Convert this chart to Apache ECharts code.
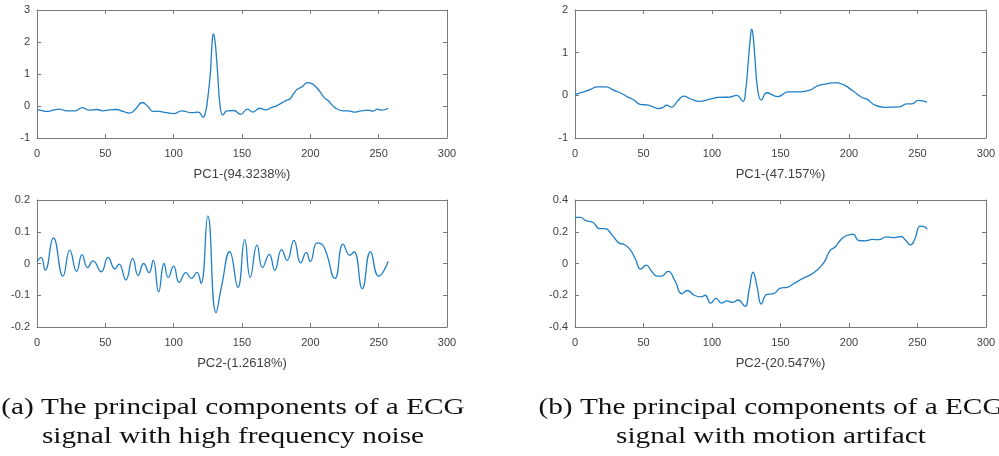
<!DOCTYPE html>
<html>
<head>
<meta charset="utf-8">
<script src="https://cdn.jsdelivr.net/npm/echarts@6/dist/echarts.min.js"></script>
<style>html,body{margin:0;padding:0;background:#fff}#c{width:999px;height:456px}</style>
</head>
<body>
<div id="c"></div>
<script>
// PC1 of ECG with high frequency noise
const pc1aX = [0,3,7,12,16,22,28,33,38,44,48,53,58,63,68,72,77,81,85,89,95,100,106,113,118,121.6,123.5,124.5,126.8,128,129,130,131,132.2,134,136,139,144,149,154,158,163,167,172,176,182,185,188,190.5,194,198,201,204,207,210,213,218,224,228,232,237,242,246,249,252,257];
const pc1aY = [-0.12,-0.14,-0.17,-0.13,-0.1,-0.15,-0.15,-0.05,-0.13,-0.11,-0.15,-0.12,-0.11,-0.17,-0.22,-0.1,0.11,-0.01,-0.17,-0.17,-0.21,-0.24,-0.15,-0.21,-0.19,-0.35,-0.15,0.1,1.0,1.9,2.25,2.1,1.7,1.0,0.0,-0.28,-0.15,-0.14,-0.26,-0.1,-0.19,-0.07,-0.12,-0.04,0.02,0.17,0.22,0.4,0.52,0.6,0.73,0.7,0.6,0.45,0.27,0.17,-0.05,-0.15,-0.15,-0.19,-0.15,-0.13,-0.16,-0.1,-0.13,-0.07];
// PC2 of ECG with high frequency noise
const pc2aX = [0,3,6,12,19,24,29,33,37,41,47,52,57,60,65,70,74,78,82,85,89,93,96,100,104,109,113,117,120,125,131,135,141,147,152,156,161,165,170,174,179,183,188,193,197,200,205,210,218,224,229,232,238,244,250,257];
const pc2aY = [0.005,0.019,-0.021,0.081,-0.04,0.042,-0.025,0.028,-0.013,0.008,-0.026,0.019,-0.017,-0.002,-0.052,0.016,-0.038,0,-0.029,0.01,-0.089,0,-0.044,-0.008,-0.059,-0.029,-0.047,-0.028,-0.063,0.15,-0.155,-0.073,0.037,-0.075,0.075,-0.044,0.058,-0.013,0.029,-0.021,0.044,0.01,0.073,0.002,0.035,0.006,0.065,0.052,-0.047,0.061,0.026,0.037,-0.079,0.037,-0.04,0.007];
// PC1 of ECG with motion artifact
const pc1bX = [0,4,8,12,16,22.6,28,33,38,43,47.5,53.5,57,60.6,64,67,70.5,75,79.5,84,91,98.5,104.5,113,118,122.6,124.5,126.5,128,129,130,131.5,133.5,136,140,148,155.5,164,171.5,177,184,190,196,203,209.5,213,219,226,237,242,246,250.5,257];
const pc1bY = [0.02,0.06,0.1,0.15,0.2,0.2,0.12,0.06,-0.03,-0.11,-0.21,-0.23,-0.27,-0.31,-0.29,-0.23,-0.28,-0.13,-0.02,-0.08,-0.14,-0.09,-0.05,-0.04,0.0,-0.14,0.1,0.8,1.35,1.55,1.4,0.8,0.1,-0.11,0.06,-0.03,0.08,0.08,0.12,0.22,0.27,0.3,0.25,0.1,-0.05,-0.09,-0.23,-0.28,-0.27,-0.2,-0.2,-0.12,-0.16];
// PC2 of ECG with motion artifact
const pc2bX = [0,4,8,13,18,22,27,32,36,40,44,48,52,56,60,63,68,73,78,82,87,92,95,99,103,107,111,115,119,124,127,130,133,136,140,145,150,155,160,166,171,177,182,186,190,194,198,203,207,212,217,222,227,232,238,241,245,248,252,255,257];
const pc2bY = [0.29,0.29,0.27,0.26,0.22,0.22,0.18,0.13,0.12,0.09,0.03,-0.035,-0.01,-0.05,-0.08,-0.08,-0.05,-0.11,-0.19,-0.17,-0.2,-0.21,-0.2,-0.25,-0.22,-0.25,-0.235,-0.245,-0.23,-0.27,-0.17,-0.055,-0.15,-0.255,-0.195,-0.19,-0.155,-0.15,-0.125,-0.095,-0.075,-0.04,0.01,0.08,0.105,0.15,0.175,0.185,0.145,0.143,0.152,0.15,0.168,0.163,0.17,0.15,0.117,0.153,0.236,0.232,0.215];

const xNames = ['PC1-(94.3238%)','PC2-(1.2618%)','PC1-(47.157%)','PC2-(20.547%)'];
const yRanges = [[-1,3,1],[-0.2,0.2,0.1],[-1,2,1],[-0.4,0.4,0.2]];
const xRange = [0,300,50];
const captionA = ['(a) The principal components of a ECG','signal with high frequency noise'];
const captionB = ['(b) The principal components of a ECG','signal with motion artifact'];

const grids = [
  {left:37, top:10, width:410, height:128},
  {left:37, top:200, width:410, height:127},
  {left:575, top:10, width:411, height:128},
  {left:575, top:200, width:411, height:127}
];
const seriesData = [[pc1aX,pc1aY],[pc2aX,pc2aY],[pc1bX,pc1bY],[pc2bX,pc2bY]];

const axisCol = '#7a7a7a';
const labCol = '#404040';
const font = '"Liberation Sans", Arial, sans-serif';

const xAxis = [], yAxis = [], series = [];
grids.forEach((g,i)=>{
  xAxis.push({type:'value', gridIndex:i, position:'bottom', min:xRange[0], max:xRange[1], interval:xRange[2],
    name:xNames[i], nameLocation:'middle', nameGap:30,
    nameTextStyle:{color:labCol, fontSize:13, fontFamily:font},
    axisLine:{show:true, onZero:false, lineStyle:{color:axisCol, width:1}},
    axisTick:{show:true, inside:true, length:4, lineStyle:{color:axisCol}},
    axisLabel:{color:labCol, fontSize:11, fontFamily:font, margin:10},
    splitLine:{show:false}});
  xAxis.push({type:'value', gridIndex:i, position:'top', min:xRange[0], max:xRange[1], interval:xRange[2],
    axisLine:{show:true, onZero:false, lineStyle:{color:axisCol, width:1}},
    axisTick:{show:true, inside:true, length:4, lineStyle:{color:axisCol}},
    axisLabel:{show:false}, splitLine:{show:false}});
  const r = yRanges[i];
  yAxis.push({type:'value', gridIndex:i, position:'left', min:r[0], max:r[1], interval:r[2],
    axisLine:{show:true, onZero:false, lineStyle:{color:axisCol, width:1}},
    axisTick:{show:true, inside:true, length:4, lineStyle:{color:axisCol}},
    axisLabel:{color:labCol, fontSize:11, fontFamily:font, margin:7},
    splitLine:{show:false}});
  yAxis.push({type:'value', gridIndex:i, position:'right', min:r[0], max:r[1], interval:r[2],
    axisLine:{show:true, onZero:false, lineStyle:{color:axisCol, width:1}},
    axisTick:{show:true, inside:true, length:4, lineStyle:{color:axisCol}},
    axisLabel:{show:false}, splitLine:{show:false}});
  const [xs, ys] = seriesData[i];
  series.push({type:'line', xAxisIndex:2*i, yAxisIndex:2*i, data:xs.map((x,k)=>[x,ys[k]]),
    showSymbol:false, smooth:0.5, lineStyle:{color:'#1f7fc8', width:1.3}, animation:false, silent:true});
});

const capFont = '24px "Liberation Serif", "Times New Roman", serif';
const capScale = 1.22;
const cap = (t,x,y)=>({type:'text', x:x, y:y, scaleX:capScale, style:{text:t, font:capFont, fill:'#111', align:'center', verticalAlign:'middle'}});
const graphic = [
  cap(captionA[0],233,408), cap(captionA[1],233,437),
  cap(captionB[0],771,408), cap(captionB[1],771,437)
];

const chart = echarts.init(document.getElementById('c'), null, {renderer:'canvas'});
chart.setOption({animation:false, backgroundColor:'#fff', grid:grids, xAxis, yAxis, series, graphic});
</script>
</body>
</html>
